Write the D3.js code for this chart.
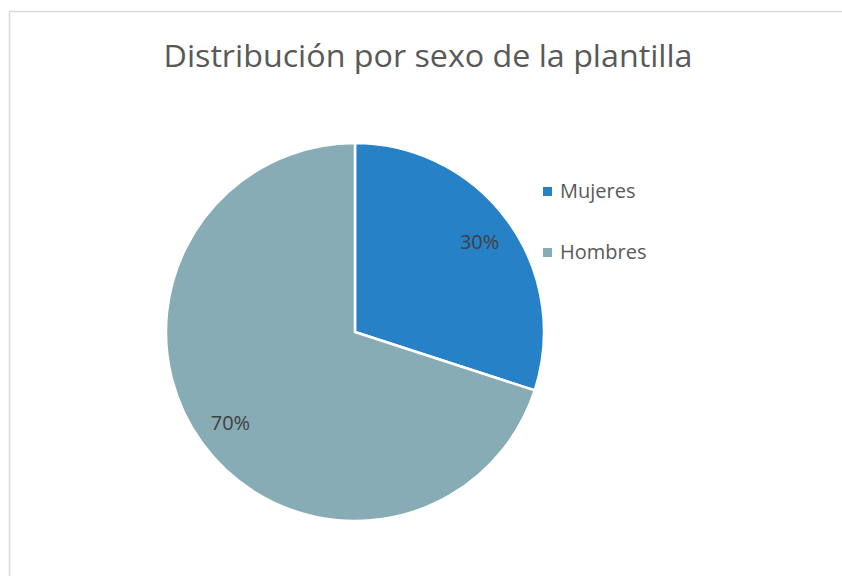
<!DOCTYPE html>
<html><head><meta charset="utf-8">
<script src="https://cdn.jsdelivr.net/npm/d3@7"></script>
<style>html,body{margin:0;padding:0;background:#fff;}svg{display:block;}</style>
</head><body>
<script>
const categories = ["Mujeres", "Hombres"];
const values = [30, 70];
const labels = ["30%", "70%"];
const colors = ["#2781C6", "#87ACB5"];
const title = "Distribución por sexo de la plantilla";

const W = 842, H = 576;
const svg = d3.select("body").append("svg").attr("width", W).attr("height", H);

// chart frame
svg.append("path")
  .attr("d", `M9.5,${H} L9.5,11.5 L${W},11.5`)
  .attr("fill", "none").attr("stroke", "#D9D9D9").attr("stroke-width", 1.5);

svg.append("text")
  .attr("x", 428).attr("y", 67)
  .attr("text-anchor", "middle")
  .attr("font-family", "'Open Sans', sans-serif")
  .attr("font-size", 31)
  .attr("fill", "#595959")
  .attr("textLength", 529).attr("lengthAdjust", "spacingAndGlyphs")
  .text(title);

const cx = 355, cy = 332, r = 189;
const data = categories.map((c, i) => ({ cat: c, value: values[i], label: labels[i], color: colors[i] }));
const pie = d3.pie().value(d => d.value).sort(null);
const arcs = pie(data);
const arc = d3.arc().innerRadius(0).outerRadius(r);
const labelArc = d3.arc().innerRadius(154).outerRadius(154);

const g = svg.append("g").attr("transform", `translate(${cx},${cy})`);
g.selectAll("path.slice").data(arcs).join("path")
  .attr("class", "slice")
  .attr("d", arc)
  .attr("fill", d => d.data.color)
  .attr("stroke", "#fff").attr("stroke-width", 2.5).attr("stroke-linejoin", "miter");

g.selectAll("text.lbl").data(arcs).join("text")
  .attr("class", "lbl")
  .attr("transform", d => `translate(${labelArc.centroid(d)})`)
  .attr("text-anchor", "middle").attr("dy", "0.36em")
  .attr("font-family", "'Open Sans', sans-serif")
  .attr("font-size", 20)
  .attr("fill", "#404040")
  .text(d => d.data.label);

const legend = svg.append("g").attr("transform", "translate(543,187)");
const yLeg = d3.scalePoint().domain(categories).range([0, 61]);
const items = legend.selectAll("g").data(data).join("g")
  .attr("transform", d => `translate(0,${yLeg(d.cat)})`);
items.append("rect").attr("width", 9).attr("height", 9).attr("fill", d => d.color);
items.append("text").attr("x", 17).attr("y", 11)
  .attr("font-family", "'Open Sans', sans-serif")
  .attr("font-size", 20)
  .attr("fill", "#595959")
  .text(d => d.cat);
</script>
</body></html>
